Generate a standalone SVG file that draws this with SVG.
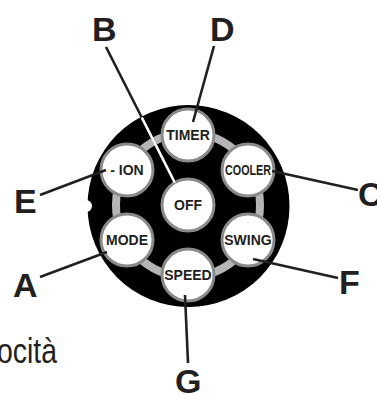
<svg xmlns="http://www.w3.org/2000/svg" width="377" height="394" viewBox="0 0 377 394">
<style>
.btn circle{fill:#fff;stroke:#8a8a8a;stroke-width:3}
.btn text{font-family:"Liberation Sans",Arial,sans-serif;font-weight:bold;font-size:14px;fill:#231f20;text-anchor:middle}
.lbl{font-family:"Liberation Sans",Arial,sans-serif;font-weight:bold;font-size:34px;fill:#231f20}
.ln{stroke:#231f20;stroke-width:2.6;fill:none;stroke-linecap:butt}
</style>
<defs>
<clipPath id="disk"><circle cx="188.5" cy="206" r="100"/></clipPath>
</defs>
<rect width="377" height="394" fill="#fff"/>
<g id="panel">
<circle cx="188.5" cy="206" r="101" fill="#000"/>
<circle cx="86" cy="206" r="6" fill="#fff"/>
<circle cx="188" cy="205" r="72" fill="none" stroke="#b5b5b5" stroke-width="8"/>
</g>
<g id="timer" class="btn"><circle cx="188" cy="135" r="26"/><text x="188" y="140">TIMER</text></g>
<g id="cooler" class="btn"><circle cx="248" cy="170" r="26"/><text x="248" y="175" textLength="46" lengthAdjust="spacingAndGlyphs">COOLER</text></g>
<g id="swing" class="btn"><circle cx="248" cy="240" r="26"/><text x="248" y="245">SWING</text></g>
<g id="speed" class="btn"><circle cx="188" cy="275" r="26"/><text x="188" y="280">SPEED</text></g>
<g id="mode" class="btn"><circle cx="127" cy="240" r="26"/><text x="127" y="245">MODE</text></g>
<g id="ion" class="btn"><circle cx="127" cy="170" r="26"/><text x="127" y="175">- ION</text></g>
<g id="off" class="btn"><circle cx="188" cy="205" r="26"/><text x="188" y="210">OFF</text></g>
<g id="connectors">
<line class="ln" x1="106" y1="47" x2="175" y2="183"/>
<line class="ln" x1="106" y1="47" x2="175" y2="183" style="stroke:#fff" clip-path="url(#disk)"/>
<line class="ln" x1="214" y1="46" x2="193" y2="122"/>
<line class="ln" x1="272" y1="171" x2="358" y2="190"/>
<line class="ln" x1="40" y1="195" x2="106" y2="170"/>
<line class="ln" x1="40" y1="277" x2="107" y2="252"/>
<line class="ln" x1="253" y1="259" x2="338" y2="278"/>
<line class="ln" x1="185" y1="295" x2="188" y2="363"/>
</g>
<g id="labels">
<text class="lbl" x="92" y="41">B</text>
<text class="lbl" x="210" y="41">D</text>
<text class="lbl" x="358" y="206">C</text>
<text class="lbl" x="14" y="213">E</text>
<text class="lbl" x="13" y="297">A</text>
<text class="lbl" x="339" y="294">F</text>
<text class="lbl" x="175" y="393">G</text>
<text x="-3" y="363" textLength="60" lengthAdjust="spacingAndGlyphs" font-family="'Liberation Sans',Arial,sans-serif" font-size="35" fill="#231f20">ocità</text>
</g>
</svg>
